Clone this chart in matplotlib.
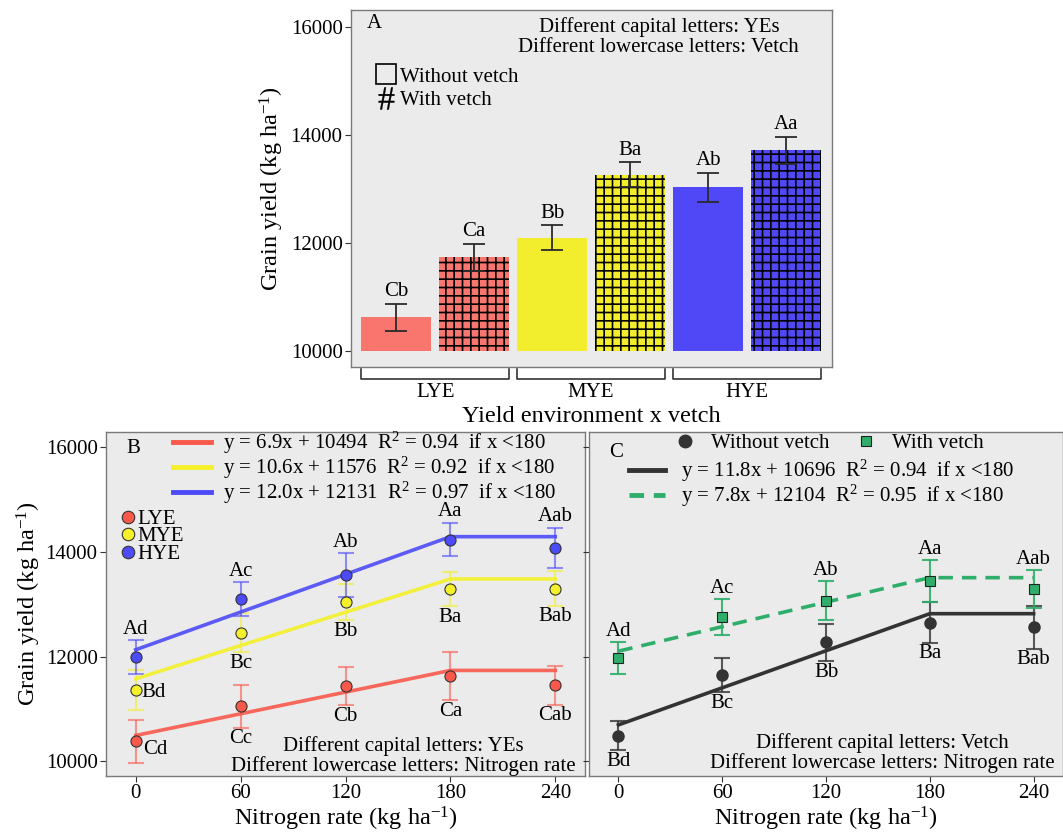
import numpy as np
import matplotlib
matplotlib.use("Agg")
import matplotlib.pyplot as plt
from matplotlib.lines import Line2D

plt.rcParams['font.family'] = ['Liberation Serif', 'DejaVu Serif']
plt.rcParams['mathtext.fontset'] = 'custom'
plt.rcParams['mathtext.rm'] = 'Liberation Serif'
plt.rcParams['mathtext.it'] = 'Liberation Serif:italic'
plt.rcParams['hatch.linewidth'] = 1.2

# ---- data: panel A (yield environment x vetch)
envs = ['LYE', 'MYE', 'HYE']
bar_without = [10620, 12090, 13030]
bar_without_err = [245, 230, 270]
bar_with = [11730, 13260, 13710]
bar_with_err = [250, 230, 255]
lab_without = ['Cb', 'Bb', 'Ab']
lab_with = ['Ca', 'Ba', 'Aa']

# ---- data: panel B (nitrogen x yield environment)
n_rate = [0, 60, 120, 180, 240]
lye = [10380, 11050, 11440, 11630, 11450]
lye_err = [405, 410, 370, 465, 375]
mye = [11360, 12460, 13040, 13290, 13300]
mye_err = [375, 380, 345, 330, 330]
hye = [11990, 13100, 13560, 14235, 14075]
hye_err = [325, 320, 420, 320, 390]
lab_lye = ['Cd', 'Cc', 'Cb', 'Ca', 'Cab']
lab_mye = ['Bd', 'Bc', 'Bb', 'Ba', 'Bab']
lab_hye = ['Ad', 'Ac', 'Ab', 'Aa', 'Aab']
fit_x = [0, 180, 240]
lye_fit = [10494, 11736, 11736]
mye_fit = [11576, 13484, 13484]
hye_fit = [12131, 14291, 14291]
eq_lye = 'y = 6.9x + 10494  R$^2$ = 0.94  if x <180'
eq_mye = 'y = 10.6x + 11576  R$^2$ = 0.92  if x <180'
eq_hye = 'y = 12.0x + 12131  R$^2$ = 0.97  if x <180'

# ---- data: panel C (nitrogen x vetch)
wo = [10490, 11640, 12270, 12650, 12560]
wo_err = [280, 325, 360, 390, 405]
wv = [11970, 12750, 13070, 13440, 13290]
wv_err = [300, 345, 370, 400, 365]
lab_wo = ['Bd', 'Bc', 'Bb', 'Ba', 'Bab']
lab_wv = ['Ad', 'Ac', 'Ab', 'Aa', 'Aab']
wo_fit = [10696, 12820, 12820]
wv_fit = [12104, 13508, 13508]
eq_wo = 'y = 11.8x + 10696  R$^2$ = 0.94  if x <180'
eq_wv = 'y = 7.8x + 12104  R$^2$ = 0.95  if x <180'

c_lye, c_mye, c_hye = '#F8766D', '#F2EE2E', '#5048F6'
l_lye, l_mye, l_hye = '#F9594B', '#F4F02A', '#4D4BF7'
c_wo, c_wv = '#333333', '#2EAE6A'
bg = '#EBEBEB'
fs = 15
tfs = 17.5
ylab = 'Grain yield (kg ha$^{-1}$)'
xlab = 'Nitrogen rate (kg ha$^{-1}$)'

W, H = 1063, 834
fig = plt.figure(figsize=(W / 100, H / 100), dpi=100)


def style(ax):
    ax.set_facecolor(bg)
    for s in ax.spines.values():
        s.set_color('#7a7a7a')
        s.set_linewidth(1.0)
    ax.tick_params(colors='#333333', labelcolor='black', labelsize=15, length=4, pad=2)
    ax.set_ylim(9720, 16290)
    ax.set_yticks([10000, 12000, 14000, 16000])


# ================= Panel A =================
axA = fig.add_axes([351 / W, 1 - 367 / H, 481 / W, 357 / H])
style(axA)
axA.set_ylim(9700, 16310)
pos_wo = np.arange(3) * 2
pos_wv = pos_wo + 1
cols = [c_lye, c_mye, c_hye]
axA.bar(pos_wo, np.array(bar_without) - 10000, bottom=10000, width=0.9, color=cols, linewidth=0)
axA.bar(pos_wv, np.array(bar_with) - 10000, bottom=10000, width=0.9, color=cols,
        edgecolor='black', hatch='++', linewidth=0)
axA.errorbar(pos_wo, bar_without, yerr=bar_without_err, fmt='none', ecolor='#2b2b2b', elinewidth=1.3, capsize=8, capthick=1.3)
axA.errorbar(pos_wv, bar_with, yerr=bar_with_err, fmt='none', ecolor='#2b2b2b', elinewidth=1.3, capsize=8, capthick=1.3)
for p, v, e, t in zip(pos_wo, bar_without, bar_without_err, lab_without):
    axA.annotate(t, (p, v + e), xytext=(0, 2), textcoords='offset points', ha='center', va='bottom', fontsize=fs)
for p, v, e, t in zip(pos_wv, bar_with, bar_with_err, lab_with):
    axA.annotate(t, (p, v + e), xytext=(0, 2), textcoords='offset points', ha='center', va='bottom', fontsize=fs)
axA.set_xlim(-0.58, 5.59)
axA.set_xticks([])
# nested x axis brackets
for g, name in enumerate(envs):
    x0, x1 = pos_wo[g] - 0.45, pos_wv[g] + 0.45
    axA.plot([x0, x0, x1, x1], [-0.005, -0.035, -0.035, -0.005], color='#333333', lw=1.2,
             transform=axA.get_xaxis_transform(), clip_on=False)
    axA.text((x0 + x1) / 2, -0.045, name, transform=axA.get_xaxis_transform(), ha='center', va='top', fontsize=15)
axA.text(0.5, -0.108, 'Yield environment x vetch', transform=axA.transAxes, ha='center', va='top', fontsize=tfs)
axA.set_ylabel(ylab, fontsize=tfs, labelpad=3)
axA.text(0.033, 0.962, 'A', transform=axA.transAxes, ha='left', va='center', fontsize=fs)
axA.text(0.64, 0.952, 'Different capital letters: YEs', transform=axA.transAxes, ha='center', va='center', fontsize=fs)
axA.text(0.64, 0.896, 'Different lowercase letters: Vetch', transform=axA.transAxes, ha='center', va='center', fontsize=fs)
hA = [Line2D([], [], ls='none', marker='s', ms=15, mfc='none', mec='black', mew=1.2),
      Line2D([], [], ls='none', marker=r'$\#$', ms=16, mfc='black', mec='black', mew=0.2)]
axA.legend(hA, ['Without vetch', 'With vetch'], loc='upper left', bbox_to_anchor=(0.052, 0.84),
           frameon=False, fontsize=fs, handlelength=1.0, handletextpad=0.15,
           labelspacing=0.2, borderpad=0, borderaxespad=0)

# ================= Panel B =================
axB = fig.add_axes([106 / W, 1 - 776 / H, 479 / W, 344 / H])
style(axB)
axB.set_xlim(-17, 257)
axB.set_xticks(n_rate)
series = [(lye, lye_err, lye_fit, c_lye, l_lye), (mye, mye_err, mye_fit, c_mye, l_mye),
          (hye, hye_err, hye_fit, c_hye, l_hye)]
for y, e, f, c, lc in series:
    axB.errorbar(n_rate, y, yerr=e, fmt='none', ecolor=lc, alpha=0.6, elinewidth=1.5, capsize=6, capthick=1.5)
for y, e, f, c, lc in series:
    axB.plot(fit_x, f, color=lc, lw=2.6, alpha=0.9)
for y, e, f, c, lc in series:
    axB.plot(n_rate, y, 'o', ms=8, mfc=lc, mec='#333333', mew=0.8)
# letters
for i, x in enumerate(n_rate):
    axB.annotate(lab_hye[i], (x, hye[i] + hye_err[i]), xytext=(0, 1), textcoords='offset points',
                 ha='center', va='bottom', fontsize=fs)
    if i == 0:
        axB.annotate(lab_mye[i], (x, mye[i]), xytext=(4, -2), textcoords='offset points',
                     ha='left', va='center', fontsize=fs)
        axB.annotate(lab_lye[i], (x, lye[i]), xytext=(5, -6), textcoords='offset points',
                     ha='left', va='center', fontsize=fs)
    else:
        axB.annotate(lab_mye[i], (x, mye[i] - mye_err[i]), xytext=(0, -1), textcoords='offset points',
                     ha='center', va='top', fontsize=fs)
        axB.annotate(lab_lye[i], (x, lye[i] - lye_err[i]), xytext=(0, -1), textcoords='offset points',
                     ha='center', va='top', fontsize=fs)
axB.set_xlabel(xlab, fontsize=tfs, labelpad=1)
axB.set_ylabel(ylab, fontsize=tfs, labelpad=2)
axB.text(0.042, 0.952, 'B', transform=axB.transAxes, ha='left', va='center', fontsize=fs)
axB.text(0.62, 0.087, 'Different capital letters: YEs', transform=axB.transAxes, ha='center', va='center', fontsize=fs)
axB.text(0.62, 0.029, 'Different lowercase letters: Nitrogen rate', transform=axB.transAxes, ha='center', va='center', fontsize=fs)
hl = [Line2D([], [], color=c, lw=3.5) for c in (l_lye, l_mye, l_hye)]
legB1 = axB.legend(hl, [eq_lye, eq_mye, eq_hye], loc='upper left', bbox_to_anchor=(0.14, 1.006),
                   frameon=False, fontsize=fs, handlelength=1.8, handletextpad=0.6,
                   labelspacing=-0.05, borderpad=0, borderaxespad=0)
axB.add_artist(legB1)
hp = [Line2D([], [], ls='none', marker='o', ms=9, mfc=c, mec='#333333', mew=0.8) for c in (l_lye, l_mye, l_hye)]
axB.legend(hp, envs, loc='upper left', bbox_to_anchor=(0.03, 0.775), frameon=False, fontsize=fs,
           handlelength=0.7, handletextpad=0.1, labelspacing=-0.1, borderpad=0, borderaxespad=0)

# ================= Panel C =================
axC = fig.add_axes([589 / W, 1 - 776 / H, 474 / W, 344 / H])
style(axC)
axC.set_xlim(-17, 257)
axC.set_xticks(n_rate)
axC.set_yticklabels([])
axC.errorbar(n_rate, wo, yerr=wo_err, fmt='none', ecolor=c_wo, alpha=0.8, elinewidth=1.5, capsize=6, capthick=1.5)
axC.errorbar(n_rate, wv, yerr=wv_err, fmt='none', ecolor=c_wv, alpha=0.9, elinewidth=1.5, capsize=6, capthick=1.5)
axC.plot(fit_x, wo_fit, color=c_wo, lw=2.6)
axC.plot(fit_x, wv_fit, color=c_wv, lw=2.6, ls=(0, (4, 2.5)))
axC.plot(n_rate, wo, 'o', ms=8, mfc=c_wo, mec=c_wo)
axC.plot(n_rate, wv, 's', ms=7, mfc=c_wv, mec='#222222', mew=0.8)
for i, x in enumerate(n_rate):
    axC.annotate(lab_wv[i], (x, wv[i] + wv_err[i]), xytext=(0, 1), textcoords='offset points',
                 ha='center', va='bottom', fontsize=fs)
    axC.annotate(lab_wo[i], (x, wo[i] - wo_err[i]), xytext=(0, -1), textcoords='offset points',
                 ha='center', va='top', fontsize=fs)
axC.set_xlabel(xlab, fontsize=tfs, labelpad=1)
axC.text(0.042, 0.94, 'C', transform=axC.transAxes, ha='left', va='center', fontsize=fs)
axC.text(0.618, 0.096, 'Different capital letters: Vetch', transform=axC.transAxes, ha='center', va='center', fontsize=fs)
axC.text(0.618, 0.038, 'Different lowercase letters: Nitrogen rate', transform=axC.transAxes, ha='center', va='center', fontsize=fs)
hm = [Line2D([], [], ls='none', marker='o', ms=9, mfc=c_wo, mec=c_wo),
      Line2D([], [], ls='none', marker='s', ms=7, mfc=c_wv, mec='#222222', mew=0.8)]
legC1 = axC.legend(hm, ['Without vetch', 'With vetch'], loc='upper left', bbox_to_anchor=(0.17, 0.995),
                   ncol=2, frameon=False, fontsize=fs, handlelength=1.5, handletextpad=0.5,
                   columnspacing=1.0, borderpad=0, borderaxespad=0)
axC.add_artist(legC1)
hc = [Line2D([], [], color=c_wo, lw=3.5), Line2D([], [], color=c_wv, lw=3.5, ls=(0, (3, 2)))]
axC.legend(hc, [eq_wo, eq_wv], loc='upper left', bbox_to_anchor=(0.085, 0.925), frameon=False,
           fontsize=fs, handlelength=1.7, handletextpad=0.8, labelspacing=-0.05, borderpad=0, borderaxespad=0)

fig.savefig('out.png', dpi=100)
